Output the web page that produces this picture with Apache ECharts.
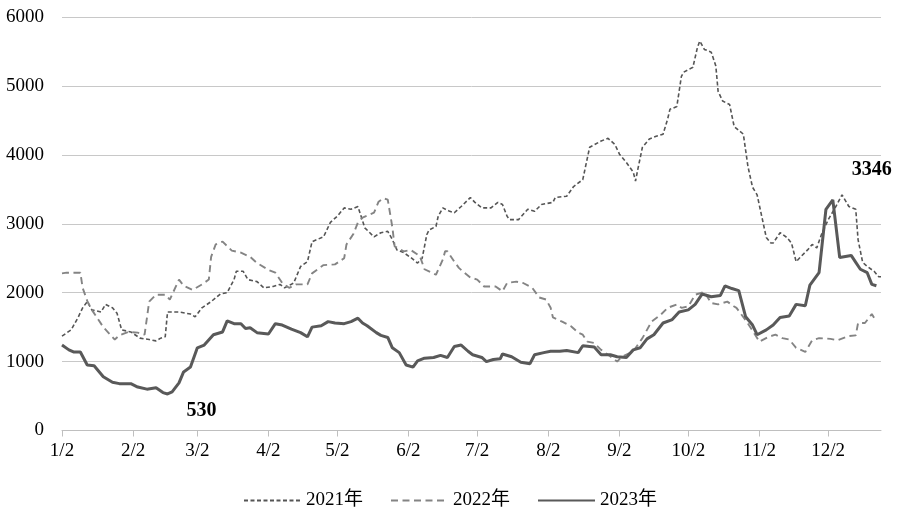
<!DOCTYPE html>
<html>
<head>
<meta charset="utf-8">
<script src="https://cdn.jsdelivr.net/npm/echarts@6/dist/echarts.min.js"></script>
<style>
html,body{margin:0;padding:0;background:#fff;}
#c{width:900px;height:518px;}
</style>
</head>
<body>
<div id="c"></div>
<script>
// x values = days after 2 Jan
const tickDays = [0, 31, 59, 90, 120, 151, 181, 212, 243, 273, 304, 334];
const tickLabels = ['1/2', '2/2', '3/2', '4/2', '5/2', '6/2', '7/2', '8/2', '9/2', '10/2', '11/2', '12/2'];
const seriesNames = ['2021年', '2022年', '2023年'];

const days2021 = [0,4,7,9,11,13,17,19,22,24,26,30,34,38,41,43,45,46,51,56,58,61,65,69,72,75,76,79,81,85,88,92,95,97,101,104,107,109,114,117,120,123,126,129,132,136,139,142,144,146,149,152,155,157,159,160,163,164,166,169,171,174,178,180,183,187,190,192,194,195,199,203,206,209,214,215,220,223,227,230,235,238,241,243,246,249,250,251,253,256,259,262,264,265,268,270,271,275,277,278,280,283,285,286,288,291,293,297,299,301,303,305,307,309,310,313,316,318,320,322,325,327,329,331,334,337,340,343,346,347,349,351,354,356,357];
const vals2021 = [1370,1460,1640,1780,1870,1750,1720,1830,1780,1700,1460,1430,1340,1320,1300,1340,1360,1720,1720,1690,1650,1780,1870,1980,2000,2190,2310,2310,2190,2160,2070,2090,2120,2070,2140,2380,2450,2740,2810,3020,3110,3230,3210,3250,2940,2810,2870,2890,2770,2620,2580,2510,2430,2500,2840,2910,2960,3110,3230,3180,3160,3250,3380,3310,3230,3230,3310,3280,3110,3060,3060,3210,3180,3280,3310,3380,3400,3540,3640,4110,4200,4240,4150,4010,3890,3750,3620,3790,4110,4230,4270,4300,4520,4660,4700,5140,5200,5270,5560,5650,5530,5490,5290,4920,4780,4730,4410,4300,3830,3530,3420,3110,2800,2720,2720,2870,2800,2720,2450,2520,2620,2700,2650,2840,3060,3230,3420,3250,3210,2770,2440,2380,2310,2230,2230];

const days2022 = [0,2,8,9,11,13,15,18,21,23,25,29,33,36,38,41,45,47,51,53,57,61,64,65,67,70,74,78,82,85,90,93,96,99,102,107,109,114,119,123,124,127,129,131,136,138,140,142,144,145,149,152,156,158,163,166,167,168,171,173,175,178,181,184,189,192,194,198,201,205,208,211,213,214,218,222,225,227,229,232,235,238,242,244,249,253,255,257,261,264,268,270,273,276,280,283,286,288,290,293,294,298,301,304,308,311,314,317,320,324,327,330,335,338,343,346,347,350,353,355];
const vals2022 = [2280,2290,2290,2070,1880,1750,1650,1500,1390,1320,1380,1430,1420,1390,1870,1970,1970,1900,2190,2100,2040,2120,2190,2520,2700,2740,2610,2580,2520,2430,2330,2290,2140,2070,2120,2120,2280,2400,2410,2500,2700,2850,3020,3090,3160,3320,3370,3350,2950,2670,2600,2620,2530,2340,2260,2480,2600,2600,2450,2360,2300,2220,2190,2090,2090,2020,2140,2160,2140,2070,1930,1900,1780,1640,1580,1510,1420,1390,1290,1270,1170,1100,1000,1070,1150,1340,1460,1580,1680,1780,1830,1780,1800,1970,2010,1850,1830,1850,1870,1800,1780,1600,1450,1290,1360,1390,1340,1320,1200,1140,1310,1340,1330,1310,1370,1380,1560,1560,1690,1580];

const days2023 = [0,3,5,8,11,14,18,22,25,30,33,37,41,44,46,48,51,53,56,59,62,66,70,72,75,78,80,82,85,90,93,96,100,104,107,109,113,116,119,123,126,129,131,133,137,139,142,144,147,150,153,155,158,162,165,168,171,174,177,179,183,185,188,191,192,196,200,204,206,210,213,217,220,225,227,232,235,239,242,246,249,252,255,258,262,266,269,273,276,279,283,287,289,292,295,298,301,303,307,310,313,317,320,324,326,330,333,336,339,344,346,348,351,353,355];
const vals2023 = [1240,1170,1140,1140,950,940,780,700,680,680,630,600,620,550,530,560,690,850,920,1200,1240,1390,1430,1590,1550,1550,1480,1490,1420,1400,1550,1530,1470,1420,1360,1500,1520,1580,1560,1550,1580,1630,1560,1520,1420,1380,1350,1200,1130,950,920,1010,1050,1060,1090,1060,1220,1240,1150,1100,1060,1000,1030,1040,1110,1070,990,970,1100,1130,1150,1150,1160,1130,1230,1210,1100,1100,1070,1060,1170,1200,1330,1390,1560,1610,1720,1750,1830,1980,1940,1960,2100,2060,2030,1650,1530,1390,1460,1530,1640,1660,1830,1810,2110,2290,3210,3346,2510,2540,2440,2340,2290,2120,2100];

function pairs(d, v) { return d.map((x, i) => [x, v[i]]); }

const serif = "'Liberation Serif', 'Times New Roman', 'Noto Sans CJK SC', serif";

const chart = echarts.init(document.getElementById('c'), null, { renderer: 'canvas' });
chart.setOption({
  animation: false,
  backgroundColor: '#ffffff',
  grid: { left: 62, right: 19, top: 17, bottom: 87.5 },
  legend: {
    top: 486,
    left: 'center',
    itemWidth: 57,
    itemHeight: 14,
    itemGap: 27,
    itemStyle: { opacity: 0 },
    textStyle: { fontFamily: serif, fontSize: 19, color: '#000' },
    data: seriesNames
  },
  xAxis: {
    type: 'value',
    min: 0,
    max: 357,
    splitLine: { show: false },
    axisLine: { show: true, lineStyle: { color: '#bfbfbf', width: 1 } },
    axisTick: { show: true, customValues: tickDays, length: 6, lineStyle: { color: '#bfbfbf' } },
    axisLabel: {
      customValues: tickDays,
      margin: 11,
      fontFamily: serif,
      fontSize: 19,
      color: '#000',
      formatter: function (v) { const i = tickDays.indexOf(v); return i >= 0 ? tickLabels[i] : ''; }
    }
  },
  yAxis: {
    type: 'value',
    min: 0,
    max: 6000,
    interval: 1000,
    axisLine: { show: false },
    axisTick: { show: false },
    splitLine: { lineStyle: { color: '#c8c8c8', width: 1 } },
    axisLabel: { margin: 18, fontFamily: serif, fontSize: 19, color: '#000', formatter: function (v) { return String(v); } }
  },
  series: [
    {
      name: seriesNames[0], type: 'line', symbol: 'none',
      data: pairs(days2021, vals2021),
      lineStyle: { color: '#555555', width: 1.6, type: [4, 2.5] },
      itemStyle: { color: '#555555' }
    },
    {
      name: seriesNames[1], type: 'line', symbol: 'none',
      data: pairs(days2022, vals2022),
      lineStyle: { color: '#848484', width: 1.9, type: [7, 4.5] },
      itemStyle: { color: '#848484' }
    },
    {
      name: seriesNames[2], type: 'line', symbol: 'none',
      data: pairs(days2023, vals2023),
      lineStyle: { color: '#595959', width: 3 },
      itemStyle: { color: '#595959' },
      z: 5,
      markPoint: {
        symbol: 'circle',
        symbolSize: 1,
        itemStyle: { color: 'rgba(0,0,0,0)' },
        label: { show: true, position: 'inside', fontFamily: serif, fontSize: 20, fontWeight: 'bold', color: '#000', formatter: '{c}' },
        data: [
          { type: 'min', label: { offset: [34, 17] } },
          { type: 'max', label: { offset: [39, -30] } }
        ]
      }
    }
  ]
});
</script>
</body>
</html>
